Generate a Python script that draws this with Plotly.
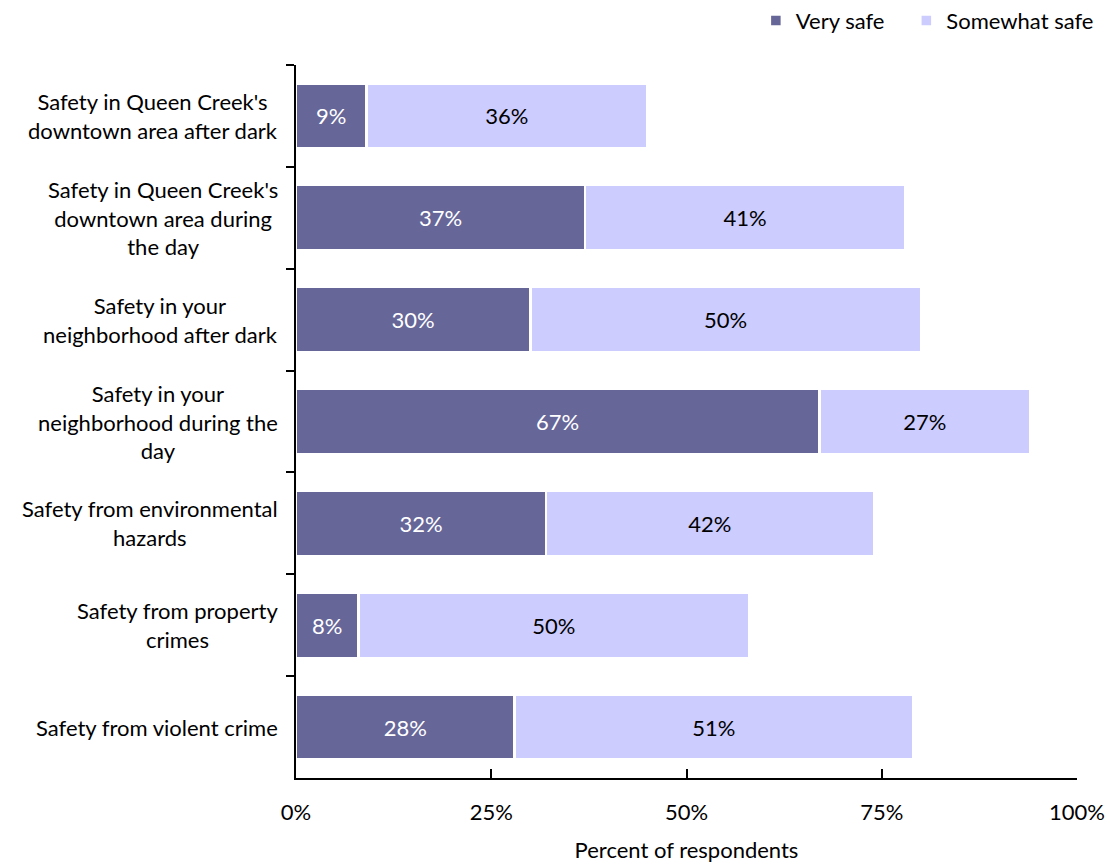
import plotly.graph_objects as go

categories = [
    "Safety in Queen Creek's<br>downtown area after dark",
    "Safety in Queen Creek's<br>downtown area during<br>the day",
    "Safety in your<br>neighborhood after dark",
    "Safety in your<br>neighborhood during the<br>day",
    "Safety from environmental<br>hazards",
    "Safety from property<br>crimes",
    "Safety from violent crime",
]
very_safe = [9, 37, 30, 67, 32, 8, 28]
somewhat_safe = [36, 41, 50, 27, 42, 50, 51]
x_ticks = [0, 25, 50, 75, 100]
x_tick_labels = ["0%", "25%", "50%", "75%", "100%"]

FONT = "Lato"
DARK = "#666699"
LIGHT = "#CCCCFF"
PAD = "\u00a0" * 3  # extra room between the two legend entries

fig = go.Figure()
fig.add_trace(go.Bar(
    y=categories, x=very_safe, orientation="h", name="Very safe" + PAD,
    marker=dict(color=DARK, line=dict(color="white", width=2.5)),
    text=[f"{v}%" for v in very_safe], textposition="inside",
    insidetextanchor="middle",
    textfont=dict(color="white", size=22, family=FONT),
))
fig.add_trace(go.Bar(
    y=categories, x=somewhat_safe, orientation="h", name="Somewhat safe",
    marker=dict(color=LIGHT, line=dict(color="white", width=2.5)),
    text=[f"{v}%" for v in somewhat_safe], textposition="inside",
    insidetextanchor="middle",
    textfont=dict(color="black", size=22, family=FONT),
))

# category labels: right-edge aligned box, lines centered inside it
for c in categories:
    fig.add_annotation(
        x=0, xref="paper", y=c, yref="y", text=c, showarrow=False,
        xanchor="right", xshift=-16, align="center",
        font=dict(size=22, family=FONT, color="black"),
    )

fig.update_layout(
    barmode="stack",
    bargap=0.36,
    width=1110, height=867,
    margin=dict(l=296, r=33, t=65, b=89, autoexpand=False),
    paper_bgcolor="white", plot_bgcolor="white",
    font=dict(family=FONT, color="black", size=22),
    uniformtext=dict(minsize=10, mode="show"),
    legend=dict(
        orientation="h", x=1.028, xanchor="right", y=1.062, yanchor="middle",
        font=dict(size=22, family=FONT), traceorder="normal",
        itemwidth=30,
    ),
    xaxis=dict(
        range=[0, 100], tickvals=x_ticks, ticktext=x_tick_labels,
        showgrid=False, zeroline=False,
        showline=True, linecolor="black", linewidth=2,
        ticks="inside", ticklen=9, tickwidth=2, tickcolor="black",
        ticklabelstandoff=14,
        tickfont=dict(size=22, family=FONT),
        title=dict(text="Percent of respondents", font=dict(size=22, family=FONT), standoff=18),
    ),
    yaxis=dict(
        autorange="reversed", categoryorder="array", categoryarray=categories,
        showticklabels=False, showgrid=False, zeroline=False,
        showline=True, linecolor="black", linewidth=2,
        ticks="outside", tickson="boundaries", ticklen=8, tickwidth=2, tickcolor="black",
    ),
)

fig.write_html("out.html")
